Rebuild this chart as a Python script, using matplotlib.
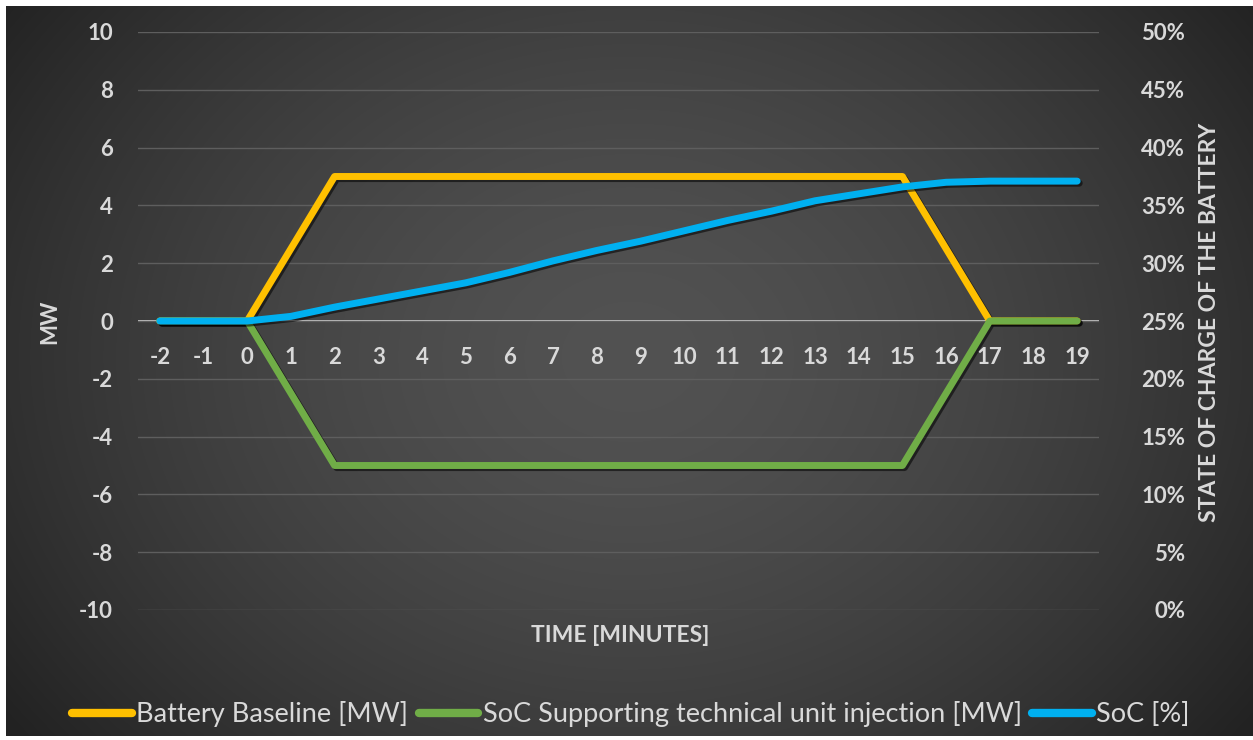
import numpy as np
import matplotlib
matplotlib.use("Agg")
import matplotlib.pyplot as plt
import matplotlib.patheffects as pe
from matplotlib.ticker import FuncFormatter

plt.rcParams["axes.unicode_minus"] = False

# ---- data ----
minutes = [-2, -1, 0, 1, 2, 3, 4, 5, 6, 7, 8, 9, 10, 11, 12, 13, 14, 15, 16, 17, 18, 19]
battery_baseline_mw = [0, 0, 0, 2.5, 5, 5, 5, 5, 5, 5, 5, 5, 5, 5, 5, 5, 5, 5, 2.5, 0, 0, 0]
support_injection_mw = [0, 0, 0, -2.5, -5, -5, -5, -5, -5, -5, -5, -5, -5, -5, -5, -5, -5, -5, -2.5, 0, 0, 0]
soc_pct = [25, 25, 25, 25.4, 26.2, 26.9, 27.6, 28.3, 29.2, 30.2, 31.1, 31.9, 32.8,
           33.7, 34.5, 35.4, 36.0, 36.6, 37.0, 37.1, 37.1, 37.1]
series_labels = ["Battery Baseline [MW]", "SoC Supporting technical unit injection [MW]", "SoC [%]"]
left_ticks = list(range(-10, 11, 2))
right_ticks = list(range(0, 51, 5))
right_tick_labels = [f"{v}%" for v in right_ticks]

YELLOW = "#FFC000"
GREEN = "#70AD47"
BLUE = "#00B0F0"
TXT = "#D9D9D9"
FONT = "Lato"
TICK_FS = 16

W, H = 1253, 740
fig = plt.figure(figsize=(W / 100, H / 100), dpi=100)
fig.patch.set_facecolor("white")

# ---- radial gradient background ----
bg = fig.add_axes([6 / W, 4 / H, 1 - 6 / W, 1 - 10 / H], zorder=-10)
ny, nx = 370, 630
yy, xx = np.mgrid[0:ny, 0:nx]
cx, cy = nx * 0.5, ny * 0.48
r = np.sqrt(((xx - cx) / (nx * 0.62)) ** 2 + ((yy - cy) / (ny * 0.85)) ** 2)
t = np.clip(r, 0, 1) ** 1.6
c0 = np.array([0x52, 0x52, 0x52]) / 255
c1 = np.array([0x22, 0x22, 0x22]) / 255
img = c0[None, None, :] * (1 - t[..., None]) + c1[None, None, :] * t[..., None]
bg.imshow(img, aspect="auto", interpolation="bicubic")
bg.set_axis_off()

# ---- main axes ----
ax = fig.add_axes([138 / W, 1 - 610 / H, 961 / W, 578 / H])
ax.set_facecolor("none")
ax.set_xlim(-2.5, 19.5)
ax.set_ylim(-10, 10)
ax.set_yticks(left_ticks)
ax.set_xticks(minutes)
for s in ax.spines.values():
    s.set_visible(False)
ax.spines["bottom"].set_position(("data", 0))
ax.grid(axis="y", color="#5E5E5E", lw=1.0, zorder=0)
ax.axhline(0, color="#C8C8C8", lw=1.4, zorder=1)
ax.tick_params(axis="both", length=0, colors=TXT)
ax.tick_params(axis="y", pad=18)
ax.tick_params(axis="x", pad=19)
for lab in ax.get_yticklabels() + ax.get_xticklabels():
    lab.set_fontfamily(FONT)
    lab.set_fontweight("bold")
    lab.set_fontsize(TICK_FS)
    lab.set_color(TXT)

shadow = [pe.SimpleLineShadow(offset=(1.5, -1.5), shadow_color="black", alpha=0.55), pe.Normal()]
l1, = ax.plot(minutes, battery_baseline_mw, color=YELLOW, lw=5, solid_capstyle="round",
              solid_joinstyle="round", path_effects=shadow, zorder=3, label=series_labels[0])
l2, = ax.plot(minutes, support_injection_mw, color=GREEN, lw=5, solid_capstyle="round",
              solid_joinstyle="round", path_effects=shadow, zorder=4, label=series_labels[1])

ax2 = ax.twinx()
ax2.set_facecolor("none")
ax2.set_ylim(0, 50)
ax2.set_yticks(right_ticks, labels=right_tick_labels, ha="right",
               fontfamily=FONT, fontweight="bold", fontsize=TICK_FS, color=TXT)
for s in ax2.spines.values():
    s.set_visible(False)
ax2.tick_params(axis="y", length=0, colors=TXT, pad=62)
l3, = ax2.plot(minutes, soc_pct, color=BLUE, lw=5, solid_capstyle="round",
               solid_joinstyle="round", path_effects=shadow, zorder=5, label=series_labels[2])

# ---- axis titles ----
fig.text(50 / W, 1 - 322 / H, "MW", rotation=90, ha="center", va="center",
         color=TXT, fontfamily=FONT, fontweight="bold", fontsize=16)
fig.text(620 / W, 1 - 636 / H, "TIME [MINUTES]", ha="center", va="center",
         color=TXT, fontfamily=FONT, fontweight="bold", fontsize=16.5)
fig.text(1210 / W, 1 - 322 / H, "STATE OF CHARGE OF THE BATTERY", rotation=90,
         ha="center", va="center", color=TXT, fontfamily=FONT, fontweight="bold", fontsize=16.5)

# ---- legend ----
leg = fig.legend(handles=[l1, l2, l3], labels=series_labels, loc="center",
                 bbox_to_anchor=(631 / W, 1 - 714 / H), ncol=3, frameon=False,
                 handlelength=2.2, handletextpad=0.15, columnspacing=0.4,
                 prop={"family": FONT, "size": 19.5})
for txt in leg.get_texts():
    txt.set_color(TXT)
for h in leg.legend_handles:
    h.set_path_effects([])
    h.set_linewidth(6)

fig.savefig("out.png", dpi=100, facecolor=fig.get_facecolor())
